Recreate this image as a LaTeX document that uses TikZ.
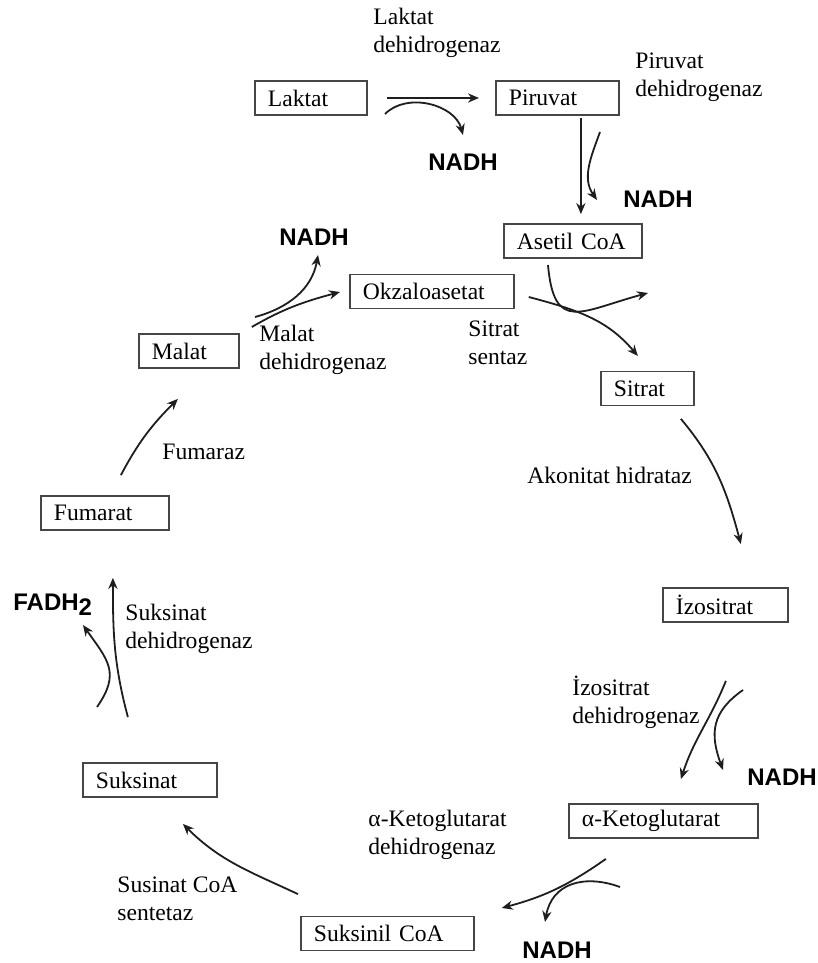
\documentclass[tikz,border=0pt]{standalone}
\usepackage{fontspec}
\setmainfont{Liberation Serif}
\newfontfamily\cofam{Liberation Sans}
\usepackage{tikz}
\usetikzlibrary{arrows.meta}
\definecolor{boxline}{RGB}{70,70,70}
\definecolor{arrowline}{RGB}{30,30,30}
\newcommand{\enzfont}{\fontsize{11.8}{14}\selectfont}
\tikzset{
  metab/.style={draw=boxline,line width=0.9pt,anchor=west,minimum height=17pt,
    inner xsep=6.5pt,inner ysep=0pt,text width=#1,align=left,font=\enzfont},
  enzyme/.style={anchor=west,inner sep=0pt,align=left,font=\enzfont},
  cofactor/.style={anchor=west,inner sep=0pt,font=\cofam\bfseries\fontsize{12}{12}\selectfont},
  arr/.style={-{Stealth[length=5.5pt,width=4.6pt]},line width=0.9pt,arrowline}
}

\begin{document}
\begin{tikzpicture}[x=0.5pt,y=0.5pt]
  \useasboundingbox (0,0) rectangle (818,963);

  % metabolites
  \node[metab=43pt] (laktat) at (254,865) {Laktat};
  \node[metab=48.5pt] (piruvat) at (495,865) {Piruvat};
  \node[metab=56pt] (asetil) at (503,722) {Asetil CoA};
  \node[metab=69pt] (okzalo) at (349,671.5) {Okzaloasetat};
  \node[metab=33.5pt] (sitrat) at (600,574.5) {Sitrat};
  \node[metab=49.5pt] (izositrat) at (662,358) {İzositrat};
  \node[metab=81.5pt] (aketo) at (568,142) {α-Ketoglutarat};
  \node[metab=73.5pt] (suksinil) at (300,29.5) {Suksinil CoA};
  \node[metab=54pt] (suksinat) at (82,183) {Suksinat};
  \node[metab=51pt] (fumarat) at (40,450) {Fumarat};
  \node[metab=37pt] (malat) at (138,612) {Malat};

  % enzymes
  \node[enzyme] (lakdh) at (373,930.5) {Laktat\\dehidrogenaz};
  \node[enzyme] (pirdh) at (635,885.5) {Piruvat\\dehidrogenaz};
  \node[enzyme] (maldh) at (259,613) {Malat\\dehidrogenaz};
  \node[enzyme] (sitsen) at (468,620.5) {Sitrat\\sentaz};
  \node[enzyme] (akon) at (527,488) {Akonitat hidrataz};
  \node[enzyme] (izodh) at (572,261) {İzositrat\\dehidrogenaz};
  \node[enzyme] (aketodh) at (368,128.5) {α-Ketoglutarat\\dehidrogenaz};
  \node[enzyme] (susco) at (117,64) {Susinat CoA\\sentetaz};
  \node[enzyme] (suksdh) at (125,334) {Suksinat\\dehidrogenaz};
  \node[enzyme] (fumaraz) at (162,511) {Fumaraz};

  % cofactors
  \node[cofactor] (nadh1) at (428,801) {NADH};
  \node[cofactor] (nadh2) at (623,764) {NADH};
  \node[cofactor] (nadh3) at (279,726) {NADH};
  \node[cofactor] (nadh4) at (747,186) {NADH};
  \node[cofactor] (nadh5) at (522,13) {NADH};
  \node[cofactor] (fadh) at (13,358) {FADH\raisebox{-0.4ex}{2}};

  % cycle
  \draw[arr,shorten <=9.5pt,shorten >=8pt] (laktat) -- (piruvat);
  \draw[arr] ([shift={(23.5,-2)}]piruvat.south) -- ([shift={(8,9)}]asetil.north);
  \draw[arr] ([shift={(14,-5.5)}]okzalo.east) to[out=-15,in=130] ([shift={(-9.5,14.5)}]sitrat.north);
  \draw[arr] ([shift={(33.5,-12.5)}]sitrat.south) to[out=-50,in=105] ([shift={(15.5,43)}]izositrat.north);
  \draw[arr] ([shift={(0.5,-58)}]izositrat.south) to[out=-112,in=72] ([shift={(17.5,24)}]aketo.north);
  \draw[arr] ([shift={(-57.5,-20)}]aketo.south) to[out=215,in=15] ([shift={(27,25.5)}]suksinil.east);
  \draw[arr] ([shift={(-2,21.5)}]suksinil.north west) to[out=155,in=-45] ([shift={(33,-26)}]suksinat.south);
  \draw[arr] ([shift={(-22,45)}]suksinat.north) to[out=105,in=-90] ([shift={(8,-47)}]fumarat.south);
  \draw[arr] ([shift={(16,20)}]fumarat.north) to[out=62,in=225] ([shift={(-11,-30)}]malat.south);
  \draw[arr] ([shift={(12,24)}]malat.east) to[out=30,in=195] ([shift={(-9,-0.5)}]okzalo.west);

  % side reactions
  \coordinate (lakout) at (385,849);
  \coordinate (laktip) at (463,828);
  \draw[arr] (lakout) to[out=45,in=105] (laktip);
  \coordinate (pirout) at (600,831);
  \coordinate (pirtip) at (597,763);
  \draw[arr] (pirout) to[out=250,in=125] (pirtip);
  \coordinate (aseout) at (548,698);
  \coordinate (asetip) at (648,670);
  \draw[arr] (aseout) to[out=-85,in=195,looseness=1.7] (asetip);
  \coordinate (malout) at (255,646);
  \coordinate (maltip) at (318,708);
  \draw[arr] (malout) to[out=15,in=-100] (maltip);
  \coordinate (izoout) at (743,273);
  \coordinate (izotip) at (723,193);
  \draw[arr] (izoout) to[out=215,in=110,looseness=1.2] (izotip);
  \coordinate (aketoout) at (620,76);
  \coordinate (aketotip) at (545,41);
  \draw[arr] (aketoout) to[out=160,in=80,looseness=1.2] (aketotip);
  \coordinate (fadout) at (97,256);
  \coordinate (fadtip) at (83,338);
  \draw[arr] (fadout) to[out=55,in=-55,looseness=1.3] (fadtip);
\end{tikzpicture}
\end{document}
